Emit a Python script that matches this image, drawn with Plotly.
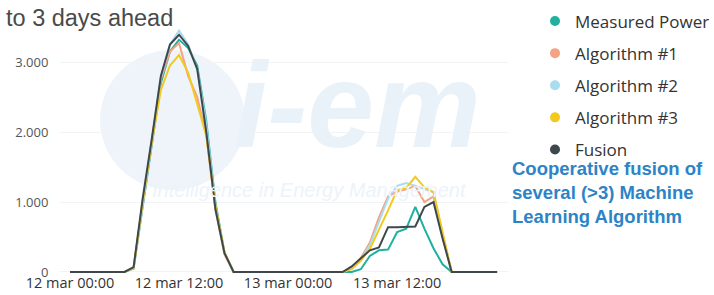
import pandas as pd
import plotly.graph_objects as go

# ---------------- data ----------------
timestamps = pd.date_range("2019-03-12 00:00", periods=48, freq="h")

measured_power = [0, 0, 0, 0, 0, 0, 0, 50, 950, 1850, 2700, 3150, 3320, 3200, 2950, 2150, 1000, 280, 0, 0, 0, 0, 0, 0,
                  0, 0, 0, 0, 0, 0, 0, 0, 40, 230, 310, 320, 570, 620, 930, 620, 340, 110, 0, 0, 0, 0, 0, 0]
algorithm_1 = [0, 0, 0, 0, 0, 0, 0, 60, 1000, 1880, 2750, 3150, 3270, 2800, 2500, 1950, 900, 250, 0, 0, 0, 0, 0, 0,
               0, 0, 0, 0, 0, 0, 0, 60, 200, 420, 780, 1080, 1150, 1180, 1230, 1000, 1080, 520, 0, 0, 0, 0, 0, 0]
algorithm_2 = [0, 0, 0, 0, 0, 0, 0, 60, 980, 1870, 2780, 3250, 3450, 3250, 2900, 2100, 950, 280, 0, 0, 0, 0, 0, 0,
               0, 0, 0, 0, 0, 0, 0, 50, 180, 380, 720, 1050, 1230, 1270, 1230, 1180, 1140, 550, 0, 0, 0, 0, 0, 0]
algorithm_3 = [0, 0, 0, 0, 0, 0, 0, 60, 1000, 1850, 2600, 2950, 3100, 2850, 2400, 1950, 950, 280, 0, 0, 0, 0, 0, 0,
               0, 0, 0, 0, 0, 0, 0, 40, 160, 330, 600, 880, 1170, 1200, 1360, 1210, 1140, 560, 0, 0, 0, 0, 0, 0]
fusion = [0, 0, 0, 0, 0, 0, 0, 70, 1050, 1900, 2800, 3250, 3390, 3230, 2900, 2000, 900, 270, 0, 0, 0, 0, 0, 0,
          0, 0, 0, 0, 0, 0, 0, 80, 200, 310, 350, 640, 640, 640, 650, 930, 1000, 480, 0, 0, 0, 0, 0, 0]

series_names = ["Measured Power", "Algorithm #1", "Algorithm #2", "Algorithm #3", "Fusion"]
series_values = [measured_power, algorithm_1, algorithm_2, algorithm_3, fusion]
series_colors = ["#1FB09F", "#F4A384", "#A9DCEF", "#F2CA1E", "#3E484C"]

x_tick_values = [timestamps[0], timestamps[12], timestamps[24], timestamps[36]]
x_tick_labels = ["12 mar 00:00", "12 mar 12:00", "13 mar 00:00", "13 mar 12:00"]
y_tick_values = [0, 1000, 2000, 3000]
y_tick_labels = ["0", "1.000", "2.000", "3.000"]

title_text = "to 3 days ahead"
note_text = "Cooperative fusion of<br>several (&gt;3) Machine<br>Learning Algorithm"

# ---------------- layout geometry ----------------
W, H = 714, 295
PL, PR, PT, PB = 60, 508, 25, 275  # plot area in pixels


def px_x(p):
    return (p - PL) / (PR - PL)


def px_y(p):
    return (PB - p) / (PB - PT)


fig = go.Figure()

# data lines
for name, vals, col in zip(series_names, series_values, series_colors):
    fig.add_trace(go.Scatter(x=timestamps, y=vals, mode="lines", name=name,
                             line=dict(color=col, width=2), showlegend=False,
                             hoverinfo="skip"))

# legend entries (circle markers)
for i, (name, col) in enumerate(zip(series_names, series_colors)):
    fig.add_trace(go.Scatter(x=[None], y=[None], mode="markers", name=name,
                             marker=dict(color=col, size=10, symbol="circle"),
                             legendgroup="g%d" % i, showlegend=True))

# watermark (faint logo)
shapes = [dict(type="circle", xref="paper", yref="paper",
               x0=px_x(100), x1=px_x(245), y0=px_y(190), y1=px_y(50),
               fillcolor="#EEF4FA", line=dict(width=0), layer="below")]

annotations = [
    dict(text="i-em", xref="paper", yref="paper", x=px_x(232), y=px_y(105),
         xanchor="left", yanchor="middle", showarrow=False,
         font=dict(family="Liberation Sans", size=120, color="#EAF2F9", weight="bold", style="italic")),
    dict(text="Intelligence in Energy Management", xref="paper", yref="paper",
         x=px_x(150), y=px_y(190), xanchor="left", yanchor="middle", showarrow=False,
         font=dict(family="Liberation Sans", size=20, color="#EDF3F9", style="italic")),
    dict(text=title_text, xref="paper", yref="paper", x=px_x(4), y=px_y(18),
         xanchor="left", yanchor="middle", showarrow=False,
         font=dict(family="Liberation Sans", size=23.5, color="#4A4A4A")),
    dict(text=note_text, xref="paper", yref="paper", x=px_x(510), y=px_y(193),
         xanchor="left", yanchor="middle", align="left", showarrow=False,
         font=dict(family="Liberation Sans", size=18.5, color="#2C84C6", weight="bold")),
]

x_start = timestamps[0] - pd.Timedelta(hours=1.1)
x_end = timestamps[0] + pd.Timedelta(hours=48.2)

fig.update_layout(
    width=W, height=H,
    margin=dict(l=PL, r=W - PR, t=PT, b=H - PB, pad=0, autoexpand=False),
    paper_bgcolor="white", plot_bgcolor="rgba(0,0,0,0)",
    separators=",.",
    shapes=shapes, annotations=annotations,
    legend=dict(x=px_x(535), y=px_y(3.5), xanchor="left", yanchor="top",
                font=dict(family="Open Sans", size=17, color="#333333"),
                tracegroupgap=7, itemwidth=30, bgcolor="rgba(0,0,0,0)",
                maxheight=295),
    xaxis=dict(range=[x_start, x_end], tickvals=x_tick_values, ticktext=x_tick_labels,
               showgrid=False, zeroline=False, showline=False, ticks="", automargin=False,
               ticklabelstandoff=-3,
               tickfont=dict(family="Open Sans", size=14.5, color="#333333")),
    yaxis=dict(range=[-43, 3529], tickvals=y_tick_values, ticktext=y_tick_labels,
               showgrid=True, gridcolor="#F1F3F5", gridwidth=1, zeroline=False,
               showline=False, ticks="outside", ticklen=8, tickcolor="rgba(0,0,0,0)",
               automargin=False,
               tickfont=dict(family="Open Sans", size=13, color="#555555")),
)

fig.write_html("out.html", config={"displayModeBar": False},
               post_script="document.body.style.margin='0';document.body.style.overflow='hidden';")
